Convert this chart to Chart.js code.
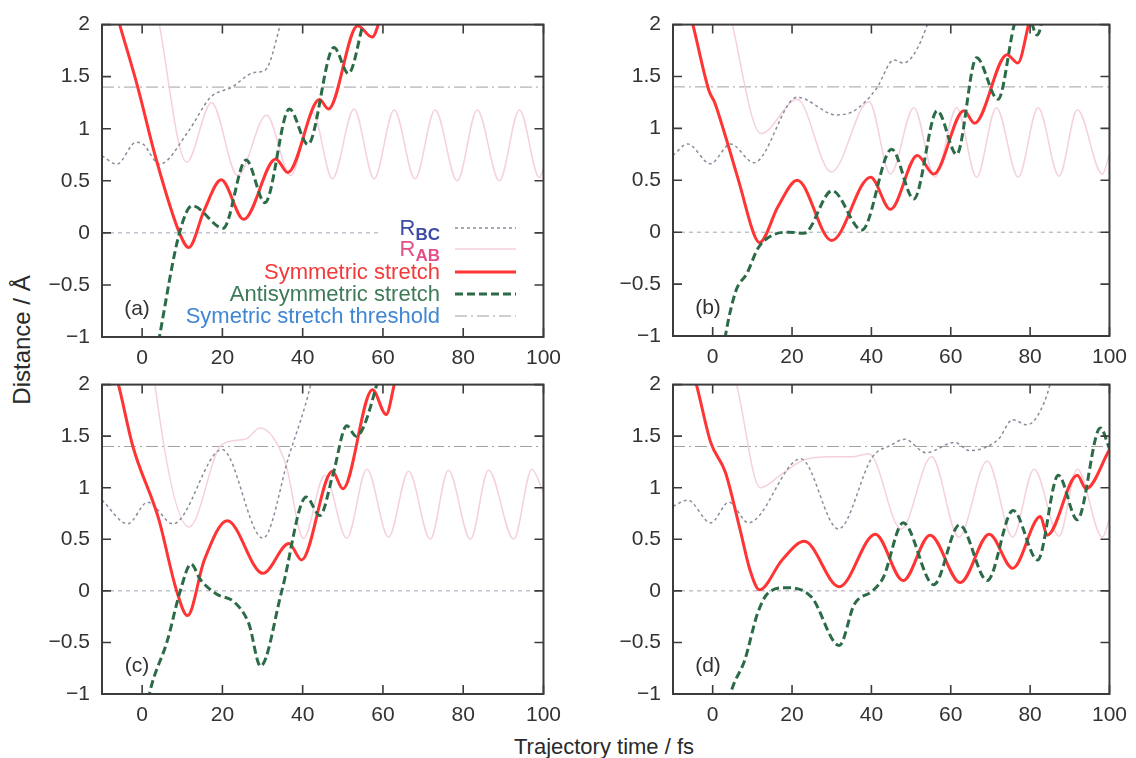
<!DOCTYPE html>
<html><head><meta charset="utf-8">
<script src="https://cdn.jsdelivr.net/npm/chart.js@4.4.1/dist/chart.umd.min.js"></script>
<style>
html,body{margin:0;padding:0;background:#fff;}
#wrap{position:relative;width:1136px;height:758px;overflow:hidden;font-family:"Liberation Sans",Arial,sans-serif;background:#fff;}
canvas{position:absolute;}
#ylab{position:absolute;left:22px;top:340px;transform:translate(-50%,-50%) rotate(-90deg);font-size:24px;color:#2a2a2a;white-space:nowrap;}
#xlab{position:absolute;left:604px;top:747px;transform:translate(-50%,-50%);font-size:22px;color:#2a2a2a;white-space:nowrap;}
</style></head>
<body><div id="wrap">
<div id="ylab">Distance / Å</div>
<div id="xlab">Trajectory time / fs</div>
</div>
<script>
// ---------- data (time fs, distance Å) ----------
const xTicks = [0, 20, 40, 60, 80, 100];
const yTicks = [-1, -0.5, 0, 0.5, 1, 1.5, 2];
const threshold = 1.4;
const zeroSpanA = [-10, 59];
const zeroSpan = [-10, 100];
const thrSpan = [-10, 100];

// panel (a)
const aSym = [[-10,2.6],[-5.6,2.0],[-1.1,1.4],[3.4,0.72],[9.3,0.0],[11.6,-0.14],[15.5,0.22],[19.7,0.51],[25.3,0.13],[33.3,0.71],[36.3,0.58],[44.2,1.28],[46.4,1.19],[53.7,1.99],[57.3,1.88],[60,2.15],[63,2.5]];
const aAnti = [[2,-1.5],[4.3,-1.0],[9.3,0.0],[12.5,0.26],[20.2,0.045],[25.9,0.70],[30.6,0.29],[36.7,1.19],[41.3,0.85],[47.8,1.78],[51.4,1.53],[55,2.0],[57,2.3]];
const aBC = [[-10,0.74],[-6.3,0.66],[-1.5,0.87],[0.3,0.85],[4.3,0.66],[11.6,0.98],[17,1.3],[22.4,1.40],[27.9,1.54],[30.6,1.56],[34.2,1.97],[36,2.3]];
const aAB = [[3,2.3],[4.3,2.0],[11.1,0.68],[17.3,1.25],[23.8,0.55],[31,1.13],[37,0.55],[42.5,1.15],[47.4,0.52],[52.8,1.19],[57.8,0.52],[62.8,1.18],[68,0.52],[73,1.18],[78.5,0.5],[83.5,1.18],[89,0.5],[94,1.18],[99,0.53],[100,0.62]];

// panel (b)
const bSym = [[-10,2.7],[-5,2.0],[-0.9,1.36],[0.5,1.25],[2.3,1.04],[6.8,0.46],[10.4,-0.02],[11.8,-0.1],[16.5,0.25],[21.3,0.50],[30,-0.08],[39.8,0.53],[44.8,0.22],[51.6,0.74],[55.7,0.56],[63.3,1.17],[66,1.05],[74.2,1.71],[76.9,1.63],[79.6,2.0],[82,2.4]];
const bAnti = [[1,-1.6],[3.2,-1.0],[5.9,-0.56],[8.6,-0.4],[11.5,-0.15],[15,-0.03],[19,0.0],[23,-0.01],[30.1,0.40],[37.6,0.02],[45.1,0.80],[50.7,0.32],[56.6,1.17],[61.5,0.75],[66.5,1.68],[71.9,1.28],[76,2.0],[78.3,2.25],[81.8,1.9],[84,2.2]];
const bBC = [[-10,0.74],[-6.3,0.85],[-0.6,0.66],[4.5,0.85],[10.4,0.67],[21.3,1.30],[31.2,1.13],[35.7,1.17],[41.2,1.38],[45.7,1.66],[48,1.63],[53.8,1.97],[56,2.3]];
const bAB = [[4,2.2],[5,2.0],[12.2,0.95],[21.3,1.28],[29.9,0.58],[39.4,1.26],[44.8,0.56],[50.7,1.2],[56,0.53],[61.5,1.2],[66.5,0.53],[71.5,1.2],[77,0.53],[82,1.2],[87.3,0.54],[91.9,1.18],[98.2,0.56],[100,0.75]];

// panel (c)
const cSym = [[-10,2.55],[-5.9,2.0],[-2.3,1.40],[4.1,0.70],[8.6,0.0],[11.3,-0.24],[15.5,0.3],[21.2,0.68],[30.1,0.17],[36.6,0.46],[39.7,0.30],[47.4,1.16],[50,0.99],[57.4,1.95],[60.8,1.71],[62.8,2.0],[65,2.4]];
const cAnti = [[0,-1.4],[1.8,-1.0],[6.3,-0.48],[9.5,0.0],[12.2,0.26],[14.5,0.11],[18.5,-0.03],[23,-0.11],[26.6,-0.32],[29.5,-0.73],[34.8,0.0],[40.9,0.91],[44.3,0.73],[47.5,1.12],[51,1.6],[53.3,1.5],[58.3,1.98],[60,2.3]];
const cBC = [[-10,0.88],[-3.6,0.65],[1.4,0.86],[7.7,0.65],[19.9,1.37],[30.1,0.51],[36.6,1.31],[42,2.0],[43.5,2.3]];
const cAB = [[2.5,2.3],[3.2,2.0],[11.7,0.62],[19.9,1.42],[25.7,1.47],[29.4,1.58],[35.7,1.24],[40.2,0.51],[45.5,1.12],[51,0.51],[56,1.18],[61.4,0.52],[66.4,1.16],[71.8,0.5],[76.3,1.17],[81.8,0.5],[86.3,1.17],[92.6,0.5],[97.1,1.18],[100,0.95]];

// panel (d)
const dSym = [[-10,2.75],[-4.1,2.0],[-0.5,1.44],[3.2,1.15],[6.8,0.61],[9.5,0.19],[11.8,0.01],[17.5,0.3],[23.1,0.48],[31.9,0.04],[41,0.55],[48,0.10],[54.8,0.54],[62.4,0.08],[69.7,0.55],[75.6,0.22],[82.6,0.72],[84.3,0.54],[91.9,1.12],[94.1,0.99],[100,1.37]];
const dAnti = [[3,-1.3],[4.5,-1.0],[8.1,-0.67],[11.3,-0.22],[14,-0.02],[18.5,0.03],[24.9,-0.06],[31.9,-0.53],[35.7,-0.13],[40.3,0.0],[43,0.13],[48,0.66],[55.7,0.06],[62.2,0.64],[69.2,0.10],[75.7,0.78],[81.9,0.30],[87.1,1.12],[91.9,0.69],[97.7,1.58],[100,1.38]];
const dBC = [[-10,0.82],[-6.3,0.88],[-0.5,0.66],[4.1,0.86],[9,0.66],[22.2,1.28],[31.7,0.6],[40.3,1.3],[44.8,1.41],[48.4,1.47],[53.8,1.34],[61,1.44],[64.7,1.36],[72,1.47],[75.6,1.66],[79.2,1.61],[81.9,1.70],[85,2.0],[86.5,2.3]];
const dAB = [[5.5,2.1],[6.5,1.92],[12,1.0],[17,1.12],[23,1.27],[30,1.3],[35,1.3],[39.4,1.33],[47.5,0.6],[55.2,1.3],[62,0.52],[69.2,1.26],[75.6,0.52],[81,1.18],[87.3,0.53],[91.9,1.18],[98.2,0.52],[100,0.7]];

const legendLabels = ['R|BC', 'R|AB', 'Symmetric stretch', 'Antisymmetric stretch', 'Symetric stretch threshold'];
const panelLabels = ['(a)', '(b)', '(c)', '(d)'];

// ---------- styles ----------
const FONT = '"Liberation Sans", Arial, sans-serif';
const TXT = '#333333';
const ST = {
  bc:   {borderColor:'#8a8c9e', borderWidth:1.5, borderDash:[3,3]},
  ab:   {borderColor:'#f5d0dd', borderWidth:1.5, borderDash:[]},
  sym:  {borderColor:'#ff3434', borderWidth:3, borderDash:[]},
  anti: {borderColor:'#2c6b48', borderWidth:3, borderDash:[8,4]},
  thr:  {borderColor:'#a0a0a0', borderWidth:1, borderDash:[12,4,2,4]},
  zero: {borderColor:'#a4a4b4', borderWidth:1, borderDash:[4,4]}
};
const legendColors = ['#3c4ba6', '#e2508c', '#f23a3a', '#3d7a56', '#3f86d4'];
const legendStyles = ['bc', 'ab', 'sym', 'anti', 'thr'];

function pts(arr){ return arr.map(([x,y]) => ({x, y})); }
function ds(arr, st){
  return Object.assign({data: pts(arr), pointRadius:0, pointHoverRadius:0, fill:false,
    cubicInterpolationMode:'monotone', capBezierPoints:false, clip:0}, ST[st]);
}
function fmt(v){ const s = String(Math.abs(v)); return v < 0 ? '\u2212' + s : s; }

const framePlugin = {
  id:'frame',
  afterDatasetsDraw(chart, args, opts){
    const {ctx, chartArea:a, scales} = chart;
    ctx.save();
    ctx.strokeStyle = '#3c3c3c';
    ctx.lineWidth = 2;
    ctx.setLineDash([]);
    ctx.strokeRect(a.left, a.top, a.right - a.left, a.bottom - a.top);
    const L = 9;
    ctx.lineWidth = 1.6;
    ctx.beginPath();
    xTicks.forEach(v => {
      const px = scales.x.getPixelForValue(v);
      ctx.moveTo(px, a.bottom); ctx.lineTo(px, a.bottom - L);
      ctx.moveTo(px, a.top); ctx.lineTo(px, a.top + L);
    });
    yTicks.forEach(v => {
      const py = scales.y.getPixelForValue(v);
      ctx.moveTo(a.left, py); ctx.lineTo(a.left + L, py);
      ctx.moveTo(a.right, py); ctx.lineTo(a.right - L, py);
    });
    ctx.stroke();
    // panel label
    ctx.fillStyle = TXT;
    ctx.font = '21px ' + FONT;
    ctx.textAlign = 'center';
    ctx.textBaseline = 'middle';
    ctx.fillText(opts.label, a.left + 35, a.bottom - 28);
    // legend
    if (opts.legend) {
      const rows = [228, 249, 272, 294, 316];
      const tx = 440, s0 = 455, s1 = 516;
      legendLabels.forEach((lab, i) => {
        const y = rows[i];
        const st = ST[legendStyles[i]];
        ctx.fillStyle = legendColors[i];
        ctx.textAlign = 'right';
        if (lab.includes('|')) {
          const [main, sub] = lab.split('|');
          ctx.font = 'bold 17px ' + FONT;
          const sw = ctx.measureText(sub).width;
          ctx.textBaseline = 'alphabetic';
          ctx.fillText(sub, tx, y + 12);
          ctx.font = '22px ' + FONT;
          ctx.fillText(main, tx - sw, y + 7);
        } else {
          ctx.font = '22px ' + FONT;
          ctx.textBaseline = 'middle';
          ctx.fillText(lab, tx, y + 1);
        }
        ctx.strokeStyle = st.borderColor;
        ctx.lineWidth = st.borderWidth;
        ctx.setLineDash(st.borderDash);
        ctx.beginPath(); ctx.moveTo(s0, y); ctx.lineTo(s1, y); ctx.stroke();
      });
    }
    ctx.restore();
  }
};

const panels = [
  {left:0,   top:0,   w:570, h:380, area:{l:102, t:23, r:544, b:337}, s:[aAnti,aSym,aBC,aAB], zero:zeroSpanA, label:panelLabels[0], legend:true},
  {left:570, top:0,   w:566, h:380, area:{l:103, t:23, r:544, b:336}, s:[bAnti,bSym,bBC,bAB], zero:zeroSpan,  label:panelLabels[1], legend:false},
  {left:0,   top:360, w:570, h:398, area:{l:102, t:22, r:544, b:334}, s:[cAnti,cSym,cBC,cAB], zero:zeroSpan,  label:panelLabels[2], legend:false},
  {left:570, top:360, w:566, h:398, area:{l:103, t:22, r:544, b:334}, s:[dAnti,dSym,dBC,dAB], zero:zeroSpan,  label:panelLabels[3], legend:false}
];

const wrap = document.getElementById('wrap');
panels.forEach(p => {
  const cv = document.createElement('canvas');
  cv.width = p.w; cv.height = p.h;
  cv.style.left = p.left + 'px'; cv.style.top = p.top + 'px';
  cv.style.width = p.w + 'px'; cv.style.height = p.h + 'px';
  wrap.appendChild(cv);
  const datasets = [
    ds(p.s[0], 'anti'), ds(p.s[1], 'sym'), ds(p.s[2], 'bc'), ds(p.s[3], 'ab'),
    ds([[thrSpan[0], threshold], [thrSpan[1], threshold]], 'thr'),
    ds([[p.zero[0], 0], [p.zero[1], 0]], 'zero')
  ];
  new Chart(cv, {
    type:'line',
    data:{datasets},
    plugins:[framePlugin],
    options:{
      responsive:false, animation:false, devicePixelRatio:1,
      layout:{autoPadding:false, padding:{top:p.area.t, right:p.w - p.area.r, left:0, bottom:0}},
      plugins:{legend:{display:false}, tooltip:{enabled:false}, frame:{label:p.label, legend:p.legend}},
      scales:{
        x:{type:'linear', min:-10, max:100,
           afterBuildTicks: s => { s.ticks = xTicks.map(v => ({value:v})); },
           afterFit: s => { s.height = p.h - p.area.b; },
           grid:{display:false, drawTicks:false}, border:{display:false},
           ticks:{color:TXT, font:{family:FONT, size:21}, padding:9, maxRotation:0, autoSkip:false, callback:v => fmt(v)}},
        y:{type:'linear', min:-1, max:2,
           afterBuildTicks: s => { s.ticks = yTicks.map(v => ({value:v})); },
           afterFit: s => { s.width = p.area.l; },
           grid:{display:false, drawTicks:false}, border:{display:false},
           ticks:{color:TXT, font:{family:FONT, size:21}, padding:12, autoSkip:false, callback:v => fmt(v)}}
      }
    }
  });
});
</script>
</body></html>
